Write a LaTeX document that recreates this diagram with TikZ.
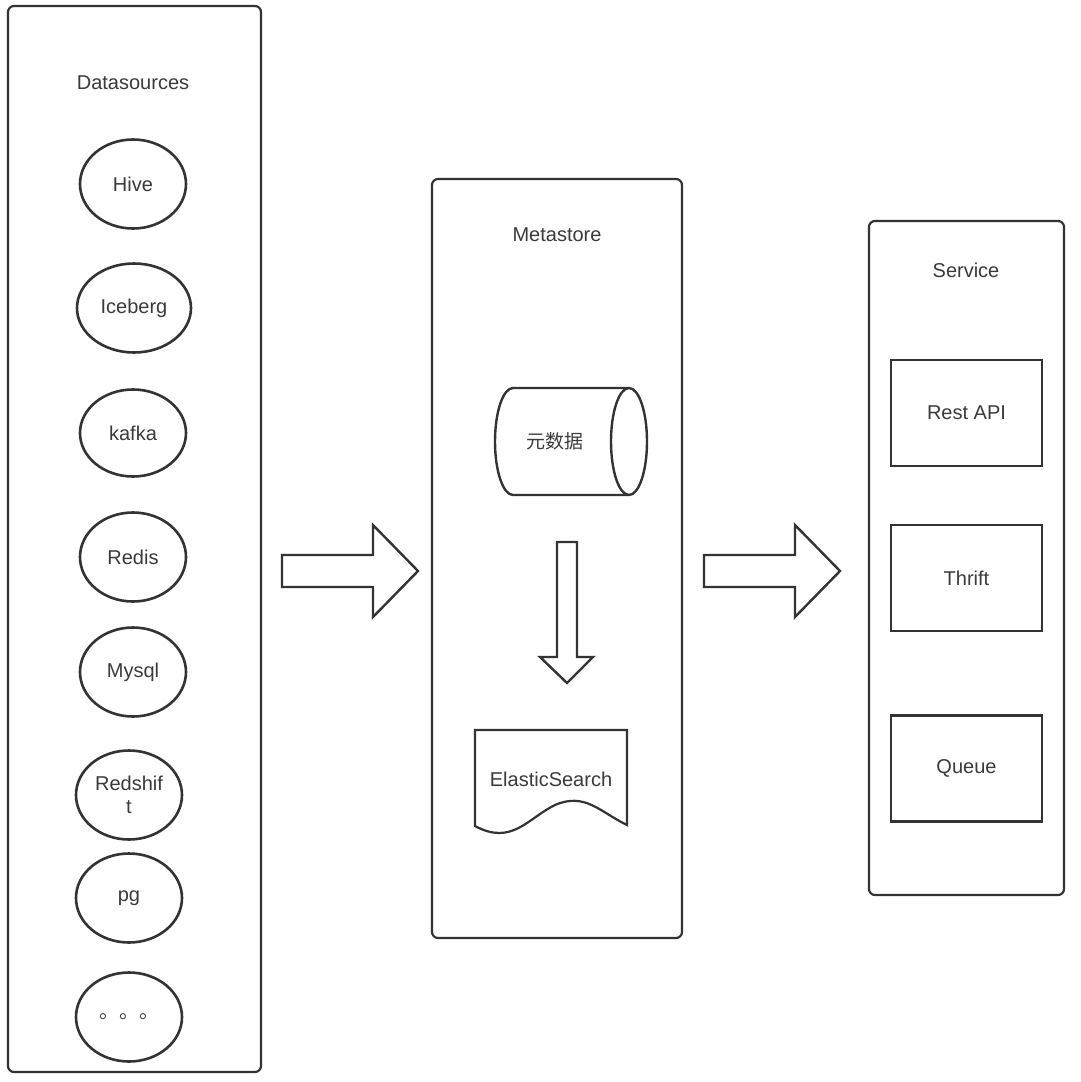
\documentclass[tikz,border=0pt]{standalone}
\usepackage{fontspec}
\setmainfont{Liberation Sans}
\newfontfamily\cjk{Noto Sans CJK SC}
\usetikzlibrary{shapes.geometric, positioning, calc}
\definecolor{cline}{HTML}{333333}
\definecolor{ctext}{HTML}{3A3A3A}

\tikzset{
  every node/.style={text=ctext, font=\fontsize{20}{23}\selectfont},
  panel/.style={draw=cline, line width=2.2pt, rounded corners=6pt, inner sep=0pt},
  source/.style={draw=cline, line width=2.6pt, ellipse, inner sep=0pt,
    minimum width=106pt, minimum height=89pt, align=center},
  api/.style={draw=cline, line width=2.4pt, inner sep=0pt,
    minimum width=151pt, minimum height=106pt},
  bigarrow/.style={draw=cline, line width=2.4pt, line join=miter},
}

\begin{document}
\begin{tikzpicture}[x=1pt, y=-1pt]
\useasboundingbox (0,0) rectangle (1080,1082);

% Datasources column
\node[panel, minimum width=253pt, minimum height=1066pt] (dsbox) at (134.5,539) {};
\node (dstitle) at (133,83) {Datasources};
\node[source] (hive) at (133,184) {Hive};
\node[source, minimum width=114pt] (iceberg) at (134,308) {Iceberg};
\node[source, minimum height=87pt] (kafka) at (133,433) {kafka};
\node[source] (redis) at (133,557) {Redis};
\node[source] (mysql) at (133,672) {Mysql};
\node[source] (redshift) at (129,795) {Redshif\\t};
\node[source] (pg) at (129,898) {pg};
\node[source, font=\cjk\fontsize{20}{22}\selectfont] (more) at (129,1017) {。。。};

% Metastore column
\node[panel, minimum width=250pt, minimum height=759pt] (metabox) at (557,558.5) {};
\node (metatitle) at (557,235) {Metastore};
\node[font=\cjk\fontsize{19}{22}\selectfont] (meta) at (555,441) {元数据};
\draw[cline, line width=2.4pt]
  (629,388) -- (513,388) arc[start angle=90, end angle=270, x radius=18, y radius=-53.5]
  -- (629,495) arc[start angle=270, end angle=450, x radius=18, y radius=-53.5]
  arc[start angle=90, end angle=270, x radius=18, y radius=-53.5];
\node (es) at (551,779) {ElasticSearch};
\coordinate (esnw) at (475,730);
\coordinate (esne) at (627,730);
\draw[cline, line width=2.2pt, line join=miter]
  (esnw) -- (esne) -- (627,825)
  .. controls (600,812) and (585,792) .. (555,805)
  .. controls (528,818) and (512,846) .. (475,826) -- cycle;
% metadata -> es
\draw[bigarrow] (557,542) -- (577,542) -- (577,657) -- (593,657) -- (567,683)
  -- (540,657) -- (557,657) -- cycle;

% Service column
\node[panel, minimum width=195pt, minimum height=674pt] (svcbox) at (966.5,558) {};
\node (svctitle) at (966,270) {Service};
\node[api] (rest) at (966.5,413) {Rest API};
\node[api] (thrift) at (966.5,578) {Thrift};
\node[api] (queue) at (966.5,768.5) {Queue};

% flow arrows between columns
\draw[bigarrow] (282,555) -- (373,555) -- (373,525) -- (418,571) -- (373,617)
  -- (373,587) -- (282,587) -- cycle;
\draw[bigarrow] (704,555) -- (795,555) -- (795,525) -- (840,571) -- (795,617)
  -- (795,587) -- (704,587) -- cycle;

\end{tikzpicture}
\end{document}
